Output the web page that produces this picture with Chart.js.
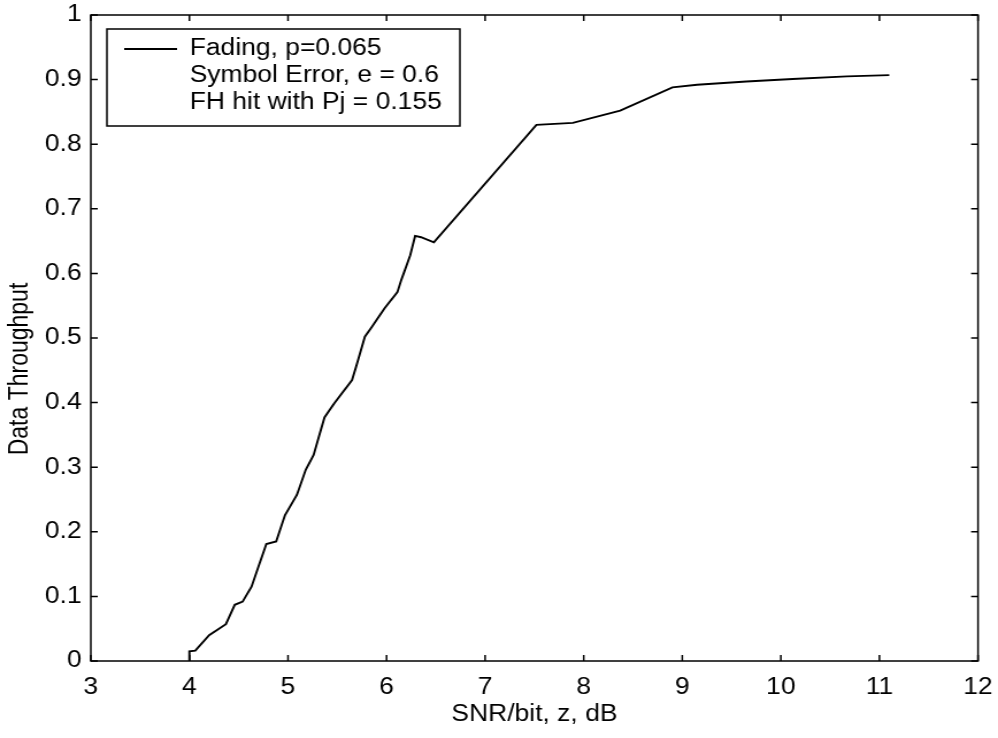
<!DOCTYPE html>
<html>
<head>
<meta charset="utf-8">
<script src="https://cdn.jsdelivr.net/npm/chart.js@4/dist/chart.umd.min.js"></script>
<style>
  html, body { margin: 0; padding: 0; background: #fff; overflow: hidden; }
  /* the figure is drawn on a narrower canvas and widened horizontally */
  #wrap { width: 868px; height: 738px; transform: scaleX(1.14977); transform-origin: 0 0; }
</style>
</head>
<body>
<div id="wrap"><canvas id="chart" width="868" height="738"></canvas></div>
<script>
// SNR per bit (dB) and the resulting data throughput
const snrDb = [4.0, 4.0, 4.06, 4.2, 4.37, 4.46, 4.54, 4.63, 4.78, 4.88, 4.97, 5.09, 5.18, 5.26,
  5.37, 5.47, 5.65, 5.69, 5.78, 5.85, 5.98, 6.11, 6.15, 6.24, 6.29, 6.35, 6.48,
  7.52, 7.89, 8.37, 8.9, 9.15, 9.65, 10.12, 10.67, 11.1];
const throughput = [0.0, 0.015, 0.016, 0.04, 0.057, 0.087, 0.092, 0.115, 0.181, 0.185, 0.226, 0.257, 0.296, 0.319,
  0.377, 0.399, 0.435, 0.455, 0.502, 0.517, 0.546, 0.571, 0.59, 0.628, 0.658, 0.656, 0.648,
  0.830, 0.833, 0.852, 0.888, 0.892, 0.897, 0.901, 0.905, 0.907];

const xTicks = [3, 4, 5, 6, 7, 8, 9, 10, 11, 12];
const yTicks = [0, 0.1, 0.2, 0.3, 0.4, 0.5, 0.6, 0.7, 0.8, 0.9, 1];
const legendLines = ['Fading, p=0.065', 'Symbol Error, e = 0.6', 'FH hit with Pj = 0.155'];
const xTitle = 'SNR/bit, z, dB';
const yTitle = 'Data Throughput';

const FONT = 'Liberation Sans, Arial, Helvetica, sans-serif';
const FS = 23;

// Axis box with inward tick marks on all four sides
const boxTicks = {
  id: 'boxTicks',
  afterDraw(chart) {
    const { ctx, chartArea: a, scales: { x, y } } = chart;
    const len = 6;
    ctx.save();
    ctx.strokeStyle = '#000';
    ctx.lineWidth = 1.5;
    ctx.strokeRect(a.left, a.top, a.right - a.left, a.bottom - a.top);
    ctx.beginPath();
    xTicks.forEach(v => {
      const px = x.getPixelForValue(v);
      ctx.moveTo(px, a.bottom); ctx.lineTo(px, a.bottom - len);
      ctx.moveTo(px, a.top); ctx.lineTo(px, a.top + len);
    });
    yTicks.forEach(v => {
      const py = y.getPixelForValue(v);
      ctx.moveTo(a.left, py); ctx.lineTo(a.left + len, py);
      ctx.moveTo(a.right, py); ctx.lineTo(a.right - len, py);
    });
    ctx.stroke();
    ctx.restore();
  }
};

// Vertical axis title, sitting a little below the middle of the axis
const yAxisTitle = {
  id: 'yAxisTitle',
  afterDraw(chart) {
    const { ctx, chartArea: a } = chart;
    ctx.save();
    ctx.translate(17.5, (a.top + a.bottom) / 2 + 31);
    ctx.rotate(-Math.PI / 2);
    ctx.fillStyle = '#000';
    ctx.font = FS + 'px ' + FONT;
    ctx.textAlign = 'center';
    ctx.textBaseline = 'middle';
    ctx.fillText(yTitle, 0, 0);
    ctx.restore();
  }
};

// Boxed legend in the upper left of the axes
const boxLegend = {
  id: 'boxLegend',
  afterDraw(chart) {
    const { ctx, chartArea: a } = chart;
    const left = a.left + 14, top = a.top + 14, w = 307, h = 97;
    const lh = 27;
    ctx.save();
    ctx.fillStyle = '#fff';
    ctx.fillRect(left, top, w, h);
    ctx.strokeStyle = '#000';
    ctx.lineWidth = 1.5;
    ctx.strokeRect(left, top, w, h);
    ctx.lineWidth = 2;
    ctx.beginPath();
    ctx.moveTo(left + 15, top + 20);
    ctx.lineTo(left + 61, top + 20);
    ctx.stroke();
    ctx.fillStyle = '#000';
    ctx.font = FS + 'px ' + FONT;
    ctx.textBaseline = 'middle';
    ctx.textAlign = 'left';
    legendLines.forEach((t, i) => ctx.fillText(t, left + 72, top + 20 + i * lh));
    ctx.restore();
  }
};

new Chart(document.getElementById('chart'), {
  type: 'scatter',
  data: {
    datasets: [{
      label: legendLines[0],
      data: snrDb.map((v, i) => ({ x: v, y: throughput[i] })),
      showLine: true,
      borderColor: '#000',
      borderWidth: 1.9,
      pointRadius: 0,
      tension: 0,
      fill: false
    }]
  },
  options: {
    responsive: false,
    animation: false,
    layout: { padding: { left: 0, right: 17.4, top: 15, bottom: 10 } },
    plugins: { legend: { display: false }, tooltip: { enabled: false } },
    scales: {
      x: {
        type: 'linear', min: 3, max: 12,
        afterBuildTicks(s) { s.ticks = xTicks.map(v => ({ value: v })); },
        afterFit(s) { s.height = 67; s.paddingLeft = 0; s.paddingRight = 0; },
        grid: { display: true, drawOnChartArea: false, drawTicks: false },
        border: { display: false },
        ticks: { color: '#000', font: { family: FONT, size: FS }, padding: 13, maxRotation: 0,
          callback: v => String(v) },
        title: { display: true, text: xTitle, color: '#000', font: { family: FONT, size: FS }, padding: 0 }
      },
      y: {
        type: 'linear', min: 0, max: 1,
        afterBuildTicks(s) { s.ticks = yTicks.map(v => ({ value: v })); },
        afterFit(s) { s.width = 79; s.paddingTop = 0; s.paddingBottom = 0; },
        grid: { display: true, drawOnChartArea: false, drawTicks: false },
        border: { display: false },
        ticks: { color: '#000', font: { family: FONT, size: FS }, padding: 8,
          callback: v => String(Number(v.toFixed(1))) }
      }
    }
  },
  plugins: [boxTicks, yAxisTitle, boxLegend]
});
</script>
</body>
</html>
